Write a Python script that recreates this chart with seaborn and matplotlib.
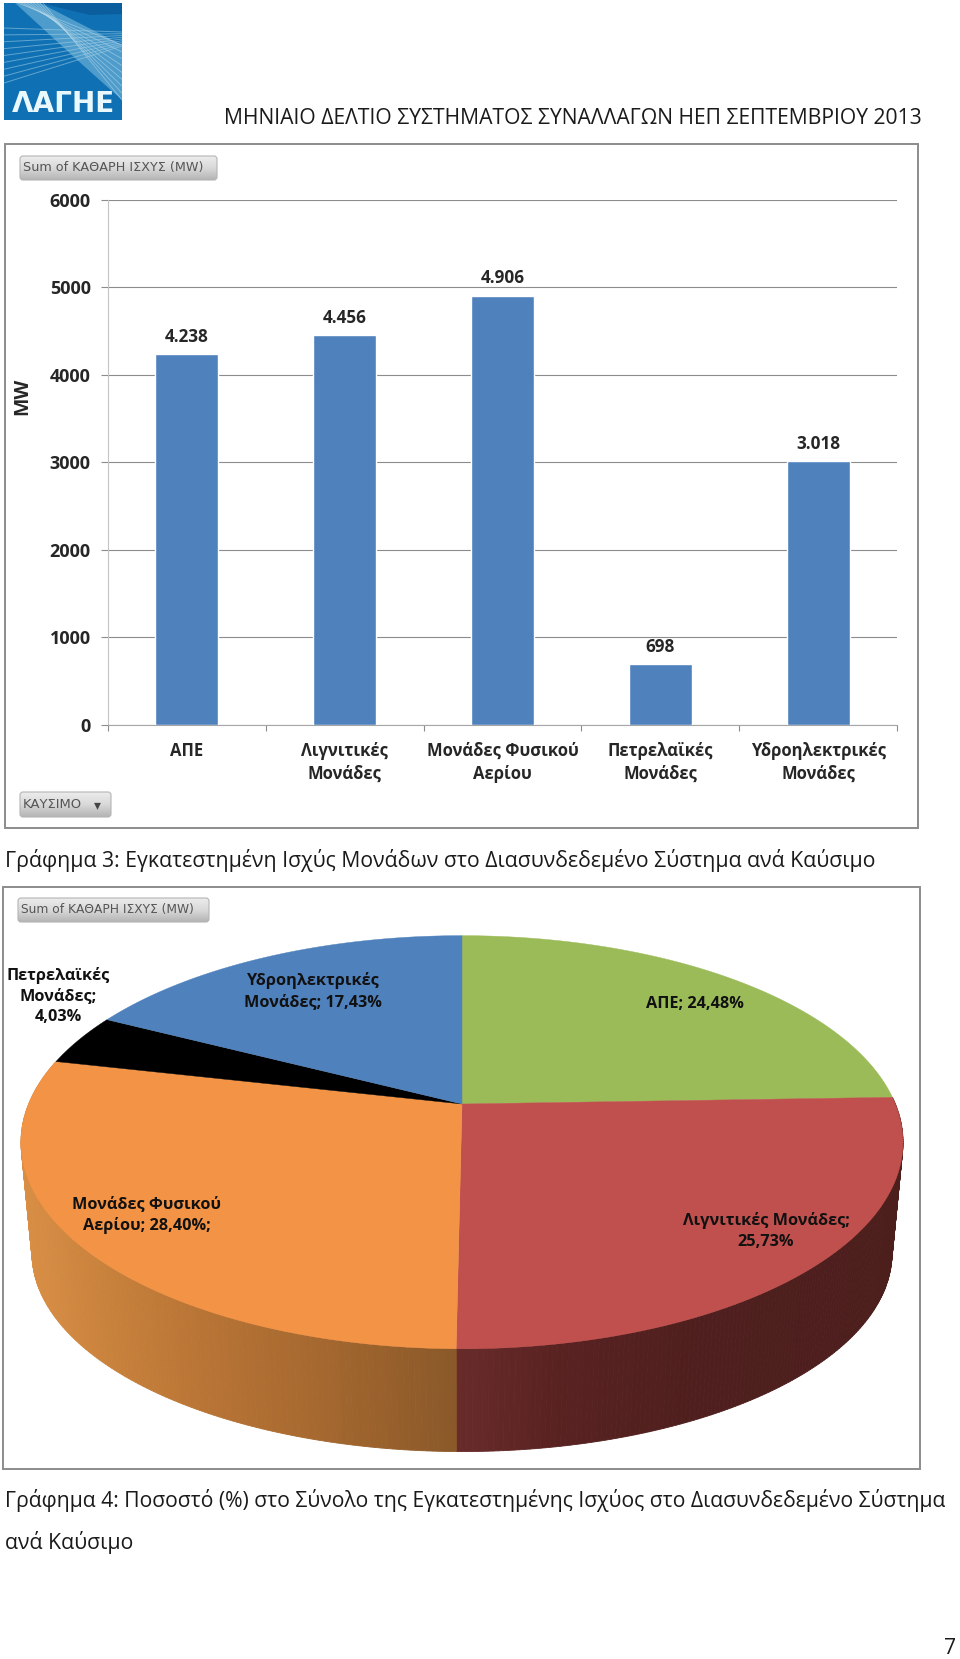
import numpy as np
import pandas as pd
import seaborn as sns
import matplotlib
matplotlib.use('Agg')
import matplotlib.pyplot as plt
from matplotlib.patches import FancyBboxPatch, Rectangle, Polygon
from matplotlib.colors import to_rgb, LinearSegmentedColormap

# bar chart data
fuel_names = ['ΑΠΕ', 'Λιγνιτικές\nΜονάδες', 'Μονάδες Φυσικού\nΑερίου', 'Πετρελαϊκές\nΜονάδες', 'Υδροηλεκτρικές\nΜονάδες']
fuel_mw = [4238, 4456, 4906, 698, 3018]
bar_labels = ['4.238', '4.456', '4.906', '698', '3.018']
y_ticks = [0, 1000, 2000, 3000, 4000, 5000, 6000]

# pie chart data
pie_share = [24.48, 25.73, 28.40, 4.03, 17.43]
pie_colors = ['#9BBB59', '#C0504D', '#F39345', '#000000', '#4F81BD']

header = 'ΜΗΝΙΑΙΟ ΔΕΛΤΙΟ ΣΥΣΤΗΜΑΤΟΣ ΣΥΝΑΛΛΑΓΩΝ ΗΕΠ ΣΕΠΤΕΜΒΡΙΟΥ 2013'
caption3 = 'Γράφημα 3: Εγκατεστημένη Ισχύς Μονάδων στο Διασυνδεδεμένο Σύστημα ανά Καύσιμο'
caption4a = 'Γράφημα 4: Ποσοστό (%) στο Σύνολο της Εγκατεστημένης Ισχύος στο Διασυνδεδεμένο Σύστημα'
caption4b = 'ανά Καύσιμο'

W, H = 960, 1659
sns.set_style('white')
plt.rcParams['font.family'] = ['Open Sans', 'DejaVu Sans']

fig = plt.figure(figsize=(W / 100, H / 100), dpi=100, facecolor='white')

# page layer in pixel coordinates, for frames, captions and logo
page = fig.add_axes([0, 0, 1, 1], zorder=0)
page.set_axis_off()


def reset_page():
    page.set_aspect('auto')
    page.set_xlim(0, W)
    page.set_ylim(H, 0)


def fit_text(x0, x1, y, s, **kw):
    t = page.text(x0, y, s, va='center', ha='left', fontsize=12, **kw)
    w = t.get_window_extent(fig.canvas.get_renderer()).width
    t.set_fontsize(12 * (x1 - x0) / w)
    return t


def button(x0, y0, x1, y1, label, text_end):
    box = FancyBboxPatch((x0 + 3, y0 + 3), x1 - x0 - 6, y1 - y0 - 6, boxstyle='round,pad=3',
                         fc='none', ec='#b5b5b5', lw=0.8, zorder=3)
    page.add_patch(box)
    grad = LinearSegmentedColormap.from_list('btn', ['#ececec', '#d9d9d9', '#b4b4b4'])
    im = page.imshow(np.linspace(0, 1, 50).reshape(-1, 1), cmap=grad, extent=(x0, x1, y1, y0),
                     aspect='auto', zorder=2)
    im.set_clip_path(box)
    fit_text(x0 + 3, text_end, (y0 + y1) / 2, label, color='#555555', family='DejaVu Sans', zorder=4)


# logo
page.add_patch(Rectangle((4, 3), 118, 117, fc='#0F70B3', ec='none'))
page.add_patch(Polygon([[40, 3], [122, 3], [122, 14], [90, 15]], fc='#0A5E9E', ec='none'))
page.add_patch(Polygon([[15, 3], [40, 3], [122, 45], [122, 100], [75, 58]], fc='#4E9CCB', ec='none'))
for k in np.linspace(0, 1, 9):
    page.plot([4, 122], [28 + 55 * k, 32 + 14 * k], color='#A5D0E6', lw=0.7, alpha=0.55)
    page.plot([18 + 25 * k, 122], [3, 45 + 55 * k], color='#BFDDEC', lw=0.6, alpha=0.55)
page.add_patch(Polygon([[4, 84], [60, 62], [122, 100], [122, 120], [4, 120]], fc='#0F70B3', ec='none'))
fit_text(12, 115, 104, 'ΛΑΓΗΕ', color='#E8F8FC', fontweight='bold', family='DejaVu Sans')

# frames
page.add_patch(Rectangle((5, 144), 913, 684, fc='white', ec='#8c8c8c', lw=1.4))
page.add_patch(Rectangle((3, 887), 917, 582, fc='white', ec='#8c8c8c', lw=1.4))

button(20, 156, 217, 180, 'Sum of ΚΑΘΑΡΗ ΙΣΧΥΣ (MW)', 203)
button(18, 898, 209, 922, 'Sum of ΚΑΘΑΡΗ ΙΣΧΥΣ (MW)', 194)
button(20, 792, 111, 817, 'ΚΑΥΣΙΜΟ', 82)
page.text(97, 805, '▾', fontsize=10, color='#444444', ha='center', va='center', family='DejaVu Sans', zorder=4)

# captions
txt = '#1a1a1a'
fit_text(224, 924, 118, header, color=txt)
fit_text(5, 873, 861, caption3, color=txt)
fit_text(5, 945, 1500, caption4a, color=txt)
fit_text(5, 133, 1543, caption4b, color=txt)
page.text(950, 1649, '7', fontsize=15, color=txt, ha='center', va='center')

# bar chart
ax = fig.add_axes([108 / W, 1 - 725 / H, (897 - 108) / W, (725 - 200) / H], zorder=1)
ax.patch.set_alpha(0)
df = pd.DataFrame({'fuel': fuel_names, 'mw': fuel_mw})
sns.barplot(data=df, x='fuel', y='mw', color='#4F81BD', saturation=1, width=0.4, ax=ax, zorder=3)
ax.set_xlim(-0.5, 4.5)
ax.set_ylim(0, 6000)
ax.set_yticks(y_ticks)
ax.set_xlabel('')
ax.set_ylabel('MW', fontsize=14, fontweight='bold')
ax.yaxis.set_label_coords((32 - 108) / 789, (725 - 396) / 525)
ax.yaxis.grid(True, color='#8c8c8c', lw=0.8)
ax.set_axisbelow(True)
for side in ['top', 'right']:
    ax.spines[side].set_visible(False)
ax.spines['left'].set_color('#c4c4c4')
ax.spines['bottom'].set_color('#a6a6a6')
ax.set_xticks(np.arange(-0.5, 5), minor=True)
ax.tick_params(axis='x', which='minor', length=4, color='#8c8c8c', width=0.8, bottom=True)
ax.tick_params(axis='x', which='major', length=0, pad=12, labelsize=12)
ax.tick_params(axis='y', length=5, color='#8c8c8c', width=0.8, left=True, pad=7.5, labelsize=13)
for lab in ax.get_xticklabels() + ax.get_yticklabels():
    lab.set_fontweight('bold')
    lab.set_linespacing(1.4)
ax.bar_label(ax.containers[0], labels=bar_labels, padding=6, fontsize=12.3, fontweight='bold')

# pie chart, flat wedges from ax.pie then tilted with a perspective map
pie_ax = fig.add_axes([0, 0, 1, 1], zorder=2)
wedges, _ = pie_ax.pie(pie_share, colors=pie_colors, startangle=90, counterclock=False)
pie_ax.set_aspect('auto')
pie_ax.set_xlim(0, W)
pie_ax.set_ylim(H, 0)
pie_ax.set_axis_off()
cx, cy, rx, ry, tilt = 462, 1104, 433.4, 199.5, 0.185


def project(u, v):
    w = 1 + tilt * v
    return cx + rx * u / w, cy - ry * v / w


def lower_rim(x, y):
    return cx + (x - cx) * 0.975, 1143 + (y - 1143) * 0.96 + 111


# shading of the rim by screen x
side_shades = {
    1: ([455, 560, 700, 900], ['#682B2A', '#582221', '#4E1F1E', '#4C1E1C']),
    2: ([22, 100, 200, 300, 455], ['#D98E45', '#C9823C', '#B87435', '#A86A30', '#8A5829']),
}

angles = [(w.theta1, w.theta2) for w in wedges]
for w in wedges:
    w.remove()

for i, (shade_x, shade_c) in side_shades.items():
    t = np.radians(np.linspace(angles[i][0], angles[i][1], 160))
    xt, yt = project(np.cos(t), np.sin(t))
    xb, yb = lower_rim(xt, yt)
    rgb = np.array([to_rgb(c) for c in shade_c])
    for j in range(len(t) - 1):
        col = [np.interp(xt[j], shade_x, rgb[:, n]) for n in range(3)]
        pie_ax.fill([xt[j], xt[j + 1], xb[j + 1], xb[j]], [yt[j], yt[j + 1], yb[j + 1], yb[j]],
                    color=col, lw=0.6, zorder=1)

for (a, b), c in zip(angles, pie_colors):
    t = np.radians(np.linspace(a, b, 160))
    xt, yt = project(np.cos(t), np.sin(t))
    pie_ax.fill(np.r_[cx, xt], np.r_[cy, yt], color=c, lw=0.3, zorder=2)

pie_labels = [
    (695, 1004, 'ΑΠΕ; 24,48%'),
    (766, 1231, 'Λιγνιτικές Μονάδες;\n25,73%'),
    (147, 1215, 'Μονάδες Φυσικού\nΑερίου; 28,40%;'),
    (58, 996, 'Πετρελαϊκές\nΜονάδες;\n4,03%'),
    (313, 991, 'Υδροηλεκτρικές\nΜονάδες; 17,43%'),
]
for x, y, s in pie_labels:
    pie_ax.text(x, y, s, ha='center', va='center', fontsize=11.7, fontweight='bold',
                color='#111111', linespacing=1.4, zorder=5)

reset_page()
fig.savefig('out.png', dpi=100)
